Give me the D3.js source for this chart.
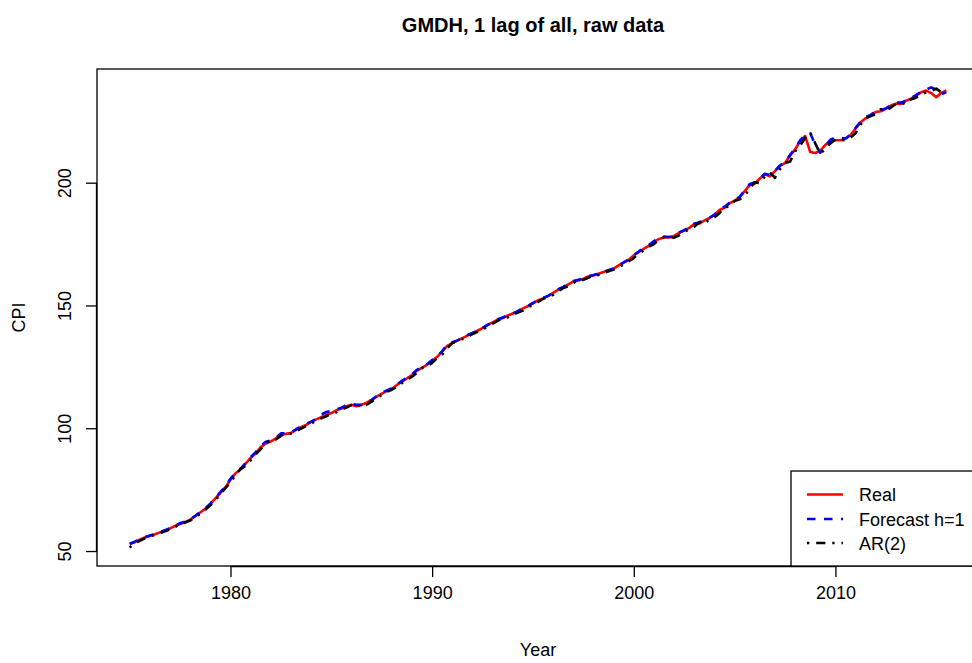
<!DOCTYPE html>
<html>
<head>
<meta charset="utf-8">
<script src="https://cdn.jsdelivr.net/npm/d3@7"></script>
<style>
  html, body { margin: 0; padding: 0; background: #ffffff; }
  svg { display: block; }
  text { font-family: "Liberation Sans", Arial, Helvetica, sans-serif; fill: #000; }
</style>
</head>
<body>
<svg id="chart" width="972" height="663"></svg>
<script>
// ---- data (quarterly, 1975 Q1 .. 2015 Q3) ----
const startYear = 1975;
const quarterStep = 0.25;

const realCPI = [
  52.8, 53.6, 54.6, 55.5,
  56.1, 56.8, 57.6, 58.3,
  59.2, 60.2, 61.0, 61.8,
  62.8, 64.2, 65.7, 67.2,
  69.1, 71.4, 73.7, 76.0,
  79.0, 81.7, 83.2, 85.6,
  87.9, 89.8, 92.3, 93.8,
  94.6, 95.9, 97.4, 97.7,
  98.1, 99.3, 100.4, 101.4,
  102.6, 103.6, 104.5, 105.4,
  106.2, 107.3, 108.0, 109.0,
  109.6, 109.0, 109.6, 110.4,
  111.6, 112.9, 114.1, 115.1,
  116.1, 117.6, 119.0, 120.3,
  121.7, 123.5, 124.6, 125.9,
  127.6, 129.1, 131.3, 133.5,
  134.7, 135.7, 136.7, 137.7,
  138.7, 139.7, 140.8, 142.0,
  143.1, 144.2, 144.9, 145.9,
  146.7, 147.6, 148.8, 149.7,
  150.9, 152.1, 152.9, 153.8,
  155.1, 156.4, 157.3, 158.6,
  159.7, 160.2, 160.9, 161.8,
  162.2, 162.9, 163.6, 164.3,
  165.0, 166.3, 167.4, 168.6,
  170.4, 171.8, 173.1, 174.3,
  175.9, 177.1, 177.7, 177.7,
  178.3, 179.6, 180.5, 181.6,
  183.2, 183.3, 184.6, 185.5,
  186.9, 188.9, 189.8, 191.6,
  192.7, 194.0, 196.6, 199.0,
  199.6, 201.7, 203.4, 202.6,
  204.7, 206.9, 208.0, 211.1,
  213.5, 216.9, 219.0, 212.5,
  212.1, 213.0, 215.4, 216.9,
  217.3, 217.3, 217.9, 219.4,
  222.1, 224.6, 226.2, 227.3,
  228.8, 229.1, 230.1, 231.4,
  232.2, 232.1, 233.4, 234.2,
  235.5, 236.8, 237.5, 236.5,
  234.8, 236.6, 237.6
];

const forecastH1 = [
  53.0, 53.8, 54.8, 55.7,
  56.3, 56.9, 57.7, 58.5,
  59.3, 60.4, 61.3, 62.0,
  62.9, 64.3, 65.9, 67.4,
  69.3, 71.6, 74.0, 76.4,
  79.4, 82.1, 83.6, 85.8,
  88.2, 90.3, 92.7, 94.5,
  95.0, 96.1, 97.9, 97.9,
  98.2, 99.6, 100.8, 101.7,
  102.7, 103.8, 105.6, 106.6,
  107.0, 107.6, 108.4, 109.4,
  110.1, 109.5, 109.5, 110.3,
  111.5, 113.1, 114.4, 115.4,
  116.3, 117.8, 119.3, 120.6,
  122.0, 123.8, 125.1, 126.1,
  127.8, 129.3, 131.4, 134.0,
  135.0, 135.8, 136.8, 137.9,
  138.8, 139.8, 140.9, 142.1,
  143.3, 144.4, 145.1, 145.9,
  146.8, 147.7, 148.9, 149.9,
  151.0, 152.3, 153.1, 153.9,
  155.2, 156.6, 157.6, 158.8,
  160.0, 160.5, 161.1, 161.9,
  162.4, 163.0, 163.7, 164.4,
  165.1, 166.3, 167.6, 168.8,
  170.5, 172.0, 173.4, 174.6,
  176.2, 177.5, 178.1, 177.9,
  178.3, 179.7, 180.7, 181.8,
  183.4, 183.8, 184.6, 185.7,
  187.0, 189.1, 190.2, 191.8,
  192.9, 194.2, 196.7, 199.5,
  200.1, 201.8, 203.6, 203.2,
  204.8, 207.0, 208.3, 211.3,
  214.0, 217.2, 219.6, 220.1,
  215.5, 212.2, 215.0, 217.5,
  218.5, 218.2, 218.0, 219.6,
  222.3, 224.8, 226.7, 227.6,
  229.1, 229.6, 230.2, 231.6,
  232.6, 232.6, 233.4, 234.4,
  235.7, 237.1, 237.9, 238.8,
  237.9, 236.0, 236.9
];

const ar2 = [
  51.4, 53.2, 54.2, 55.2,
  56.0, 56.5, 57.3, 58.0,
  58.8, 59.8, 60.9, 61.6,
  62.4, 63.6, 65.2, 66.8,
  68.6, 70.7, 73.2, 75.6,
  78.0, 81.0, 83.4, 84.6,
  87.0, 89.4, 91.5, 94.1,
  95.1, 95.4, 96.9, 98.1,
  97.8, 98.6, 99.9, 100.9,
  101.9, 103.1, 104.0, 104.9,
  105.8, 106.5, 107.7, 108.4,
  109.4, 109.9, 108.4, 109.6,
  110.8, 112.2, 113.6, 114.8,
  115.7, 116.8, 118.4, 119.8,
  121.0, 122.6, 124.6, 125.2,
  126.6, 128.6, 129.9, 132.6,
  134.8, 135.4, 136.3, 137.3,
  138.3, 139.3, 140.3, 141.4,
  142.6, 143.7, 144.8, 145.2,
  146.3, 147.1, 147.9, 149.3,
  150.1, 151.5, 152.7, 153.3,
  154.3, 155.8, 157.1, 157.8,
  159.2, 160.3, 160.4, 161.3,
  162.2, 162.4, 163.2, 163.9,
  164.6, 165.3, 166.9, 168.0,
  169.3, 171.1, 172.5, 173.9,
  175.0, 176.8, 177.8, 177.9,
  177.6, 178.6, 180.2, 180.8,
  182.0, 184.0, 183.2, 185.2,
  185.9, 187.6, 190.1, 190.2,
  192.5, 193.2, 194.6, 197.8,
  200.2, 199.8, 202.5, 204.2,
  202.0, 205.5, 208.0, 208.6,
  212.7, 215.1, 218.3, 220.5,
  216.0, 211.8, 213.8, 216.0,
  217.6, 217.5, 217.3, 218.3,
  220.2, 223.7, 226.2, 227.1,
  227.9, 229.9, 229.3, 230.6,
  232.1, 232.6, 231.9, 234.0,
  234.6, 235.7, 236.9, 237.4,
  238.3, 236.9, 236.2
];

const xTicks = [1980, 1990, 2000, 2010];
const yTicks = [50, 100, 150, 200];
const seriesNames = ["Real", "Forecast h=1", "AR(2)"];
const seriesColors = ["#ff0000", "#0000ff", "#000000"];
const titleText = "GMDH, 1 lag of all, raw data";
const xLabel = "Year";
const yLabel = "CPI";

// ---- layout ----
const svg = d3.select("#chart");
const W = 972, H = 663;
const plot = { left: 97, right: 979, top: 69, bottom: 566 };

const years = realCPI.map((_, i) => startYear + i * quarterStep);

// R-style 4% padding
function padExtent(ext) {
  const r = ext[1] - ext[0];
  return [ext[0] - 0.04 * r, ext[1] + 0.04 * r];
}
const allVals = realCPI.concat(forecastH1, ar2);
const x = d3.scaleLinear().domain(padExtent(d3.extent(years))).range([plot.left, plot.right]);
const y = d3.scaleLinear().domain(padExtent(d3.extent(allVals))).range([plot.bottom, plot.top]);

svg.append("rect").attr("x", 0).attr("y", 0).attr("width", W).attr("height", H).attr("fill", "#fff");

// series
const line = d3.line().x(d => x(d[0])).y(d => y(d[1]));
const LW = 2.6;
const dashes = [null, "8.5,8.5", "2.3,6.9,9.2,6.9"];
const seriesData = [realCPI, forecastH1, ar2];

seriesData.forEach((vals, k) => {
  svg.append("path")
    .datum(vals.map((v, i) => [years[i], v]))
    .attr("d", line)
    .attr("fill", "none")
    .attr("stroke", seriesColors[k])
    .attr("stroke-width", LW)
    .attr("stroke-linejoin", "round")
    .attr("stroke-dasharray", dashes[k]);
});

// plot box
svg.append("rect")
  .attr("x", plot.left).attr("y", plot.top)
  .attr("width", plot.right - plot.left).attr("height", plot.bottom - plot.top)
  .attr("fill", "none").attr("stroke", "#000").attr("stroke-width", 1.3);

// x axis
const xAxis = d3.axisBottom(x).tickValues(xTicks).tickSize(11).tickPadding(9).tickFormat(d3.format("d"));
const gx = svg.append("g").attr("transform", `translate(0,${plot.bottom})`).call(xAxis);
gx.select(".domain").attr("d", `M${x(xTicks[0])},0.5H${x(xTicks[xTicks.length-1])}`).attr("stroke", "#000").attr("stroke-width", 1.3);
gx.selectAll(".tick line").attr("stroke", "#000").attr("stroke-width", 1.3);
gx.selectAll(".tick text").attr("font-size", 18).attr("font-family", "Liberation Sans, Arial, sans-serif").attr("fill", "#000");

// y axis
const yAxis = d3.axisLeft(y).tickValues(yTicks).tickSize(11).tickPadding(6);
const gy = svg.append("g").attr("transform", `translate(${plot.left},0)`).call(yAxis);
gy.select(".domain").attr("d", `M-0.5,${y(yTicks[0])}V${y(yTicks[yTicks.length-1])}`).attr("stroke", "#000").attr("stroke-width", 1.3);
gy.selectAll(".tick line").attr("stroke", "#000").attr("stroke-width", 1.3);
gy.selectAll(".tick text")
  .attr("font-size", 18).attr("font-family", "Liberation Sans, Arial, sans-serif").attr("fill", "#000")
  .attr("x", null).attr("dy", null)
  .attr("text-anchor", "middle")
  .attr("transform", "translate(-26.5,0) rotate(-90)");

// titles
svg.append("text").attr("x", (plot.left + plot.right) / 2 - 5).attr("y", 32)
  .attr("text-anchor", "middle").attr("font-size", 20).attr("font-weight", "bold").text(titleText);
svg.append("text").attr("x", (plot.left + plot.right) / 2).attr("y", 656)
  .attr("text-anchor", "middle").attr("font-size", 18).text(xLabel);
svg.append("text").attr("transform", `translate(24.5,${(plot.top + plot.bottom) / 2}) rotate(-90)`)
  .attr("text-anchor", "middle").attr("font-size", 18).text(yLabel);

// legend
const leg = svg.append("g");
leg.append("rect").attr("x", 791).attr("y", 471).attr("width", plot.right - 791).attr("height", plot.bottom - 471)
  .attr("fill", "#fff").attr("stroke", "#000").attr("stroke-width", 1.3);
const rowY = [494.5, 519, 543];
seriesNames.forEach((name, k) => {
  leg.append("line").attr("x1", 807).attr("x2", 843).attr("y1", rowY[k]).attr("y2", rowY[k])
    .attr("stroke", seriesColors[k]).attr("stroke-width", LW).attr("stroke-dasharray", dashes[k]);
  leg.append("text").attr("x", 859).attr("y", rowY[k] + 6.5).attr("font-size", 18).text(name);
});
</script>
</body>
</html>
